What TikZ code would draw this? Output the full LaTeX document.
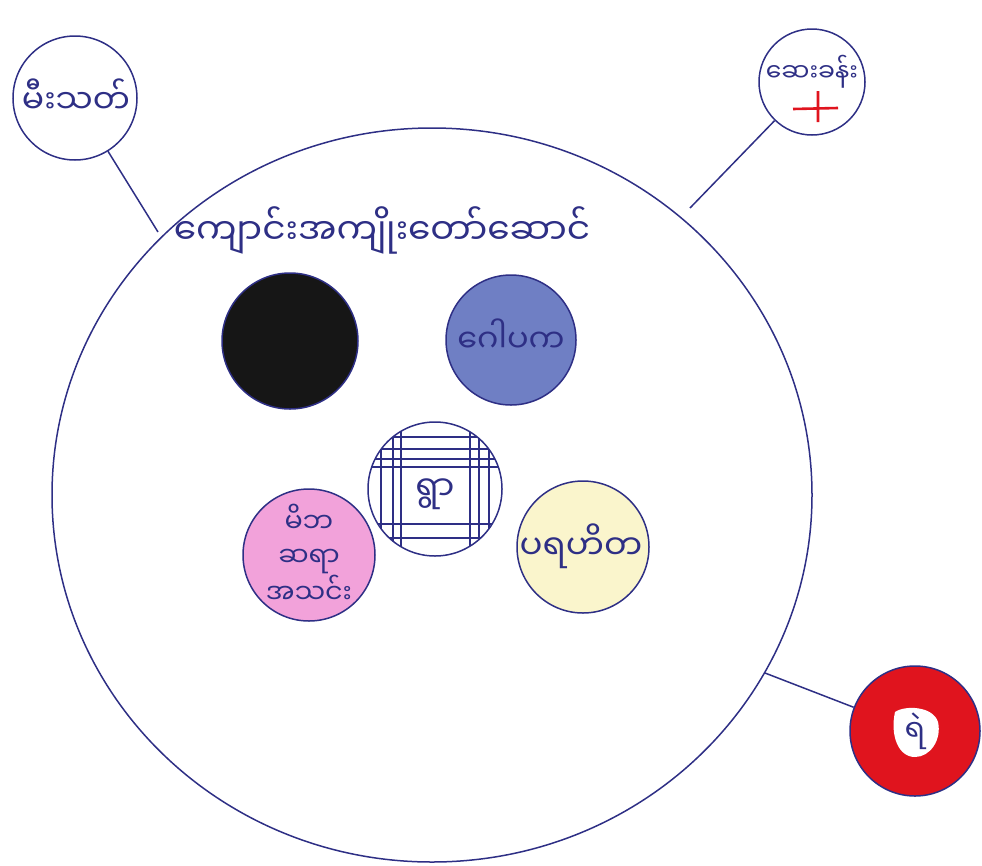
\documentclass[tikz,border=0pt]{standalone}
\usepackage{fontspec}
\usetikzlibrary{shapes.geometric}
\newfontfamily\mmfont[Script=Myanmar]{Noto Sans Myanmar UI}
\begin{document}
\begin{tikzpicture}[x=1pt,y=-1pt,
  ink/.style={draw=inkc, line width=1.5pt},
  smallc/.style={circle, ink, minimum size=#1, inner sep=0pt},
  lbl/.style={font=\mmfont\fontsize{30}{34}\selectfont, text=inkc, align=center, inner sep=0pt}]
\definecolor{inkc}{HTML}{2E2F85}
\definecolor{bluef}{HTML}{6F7FC4}
\definecolor{pinkf}{HTML}{F2A2DA}
\definecolor{creamf}{HTML}{FAF5CC}
\definecolor{redf}{HTML}{E0141E}
\definecolor{blackf}{HTML}{161616}
\useasboundingbox (0,0) rectangle (982,865);
% main circle
\node[ellipse, ink, minimum width=760, minimum height=734, inner sep=0pt] (main) at (432,495) {};
% outer circles
\node[smallc=124] (fire) at (75,98) {};
\node[lbl, font=\mmfont\fontsize{33}{38}\selectfont] (firet) at (76,96) {မီးသတ်};
\node[smallc=106] (clinic) at (812,82) {};
\node[lbl, font=\mmfont\fontsize{25}{30}\selectfont] (clinict) at (812,72) {ဆေးခန်း};
\draw[redf, line width=2.6pt] (793,109) -- (838,108) (818,91) -- (818,122);
\node[smallc=130, fill=redf] (police) at (915,731) {};
\fill[white] (895,712) .. controls (905,705) and (933,706) .. (938,722) .. controls (942,740) and (930,757) .. (915,757) .. controls (898,757) and (890,735) .. (895,712) -- cycle;
\node[lbl, font=\mmfont\fontsize{30}{34}\selectfont] (policet) at (915,731) {ရဲ};
% connectors
\coordinate (c1) at (158,232);
\coordinate (c2) at (690,208);
\coordinate (c3) at (765,673);
\draw[inkc, line width=1.5pt] (fire) -- (c1);
\draw[inkc, line width=1.5pt] (clinic) -- (c2);
\draw[inkc, line width=1.5pt] (police) -- (c3);
% title
\node[lbl, font=\mmfont\fontsize{36}{40}\selectfont] (title) at (382,230) {ကျောင်းအကျိုးတော်ဆောင်};
% inner circles
\node[smallc=136, fill=blackf] (black) at (290,341) {};
\node[smallc=130, fill=bluef] (blue) at (511,340) {};
\node[lbl, font=\mmfont\fontsize{32}{36}\selectfont] at (511,336) {ဂေါပက};
\node[smallc=132, fill=pinkf] (pink) at (309,555) {};
\node[lbl, font=\mmfont\fontsize{27}{34}\selectfont] at (309,554) {မိဘ\\ဆရာ\\အသင်း};
\node[smallc=132, fill=creamf] (cream) at (583,547) {};
\node[lbl, font=\mmfont\fontsize{34}{38}\selectfont] at (581,546) {ပရဟိတ};
% hatched circle
\node[smallc=134] (vil) at (435,489) {};
\begin{scope}
\clip (435,489) circle (67);
\foreach \yy in {437,449,459,467,524,538}
  \draw[inkc, line width=1.3pt] (360,\yy) -- (510,\yy);
\foreach \xx in {381,393,401,470,479,489}
  \draw[inkc, line width=1.3pt] (\xx,415) -- (\xx,560);
\end{scope}
\node[lbl, font=\mmfont\fontsize{34}{38}\selectfont] at (435,494) {ရွာ};
\end{tikzpicture}
\end{document}
